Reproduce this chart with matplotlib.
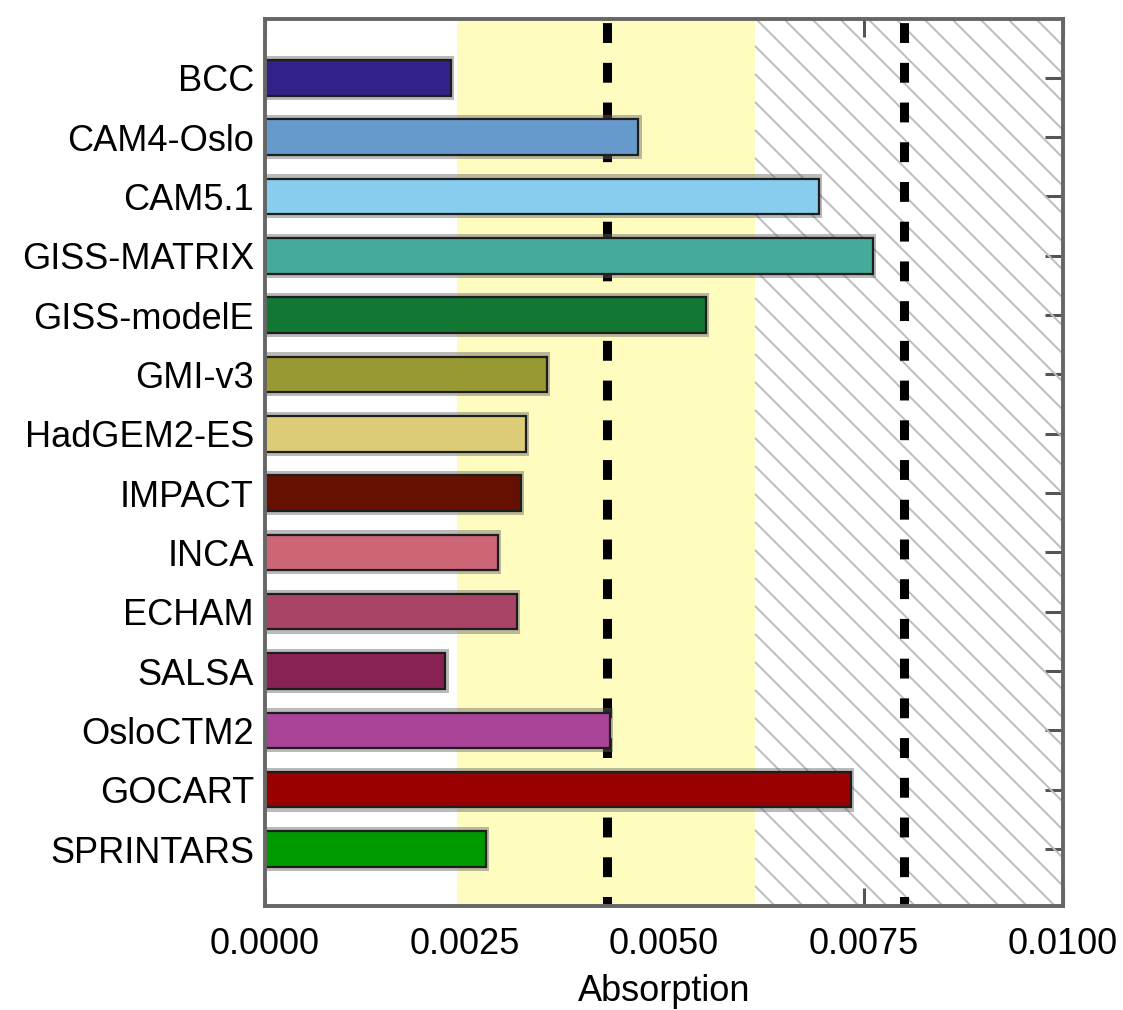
import matplotlib
matplotlib.use("Agg")
import matplotlib.pyplot as plt
from matplotlib import font_manager
from matplotlib.collections import LineCollection
import numpy as np

# model absorption values
models = ["BCC", "CAM4-Oslo", "CAM5.1", "GISS-MATRIX", "GISS-modelE", "GMI-v3",
          "HadGEM2-ES", "IMPACT", "INCA", "ECHAM", "SALSA", "OsloCTM2",
          "GOCART", "SPRINTARS"]
absorption = [0.00233, 0.00468, 0.00694, 0.00762, 0.00552, 0.00353, 0.00327,
              0.00321, 0.00292, 0.00316, 0.00226, 0.00432, 0.00734, 0.00277]
colors = ["#33218a", "#6699cc", "#88ccee", "#44aa99", "#117733", "#999933",
          "#ddcc77", "#661100", "#cc6677", "#aa4466", "#882255", "#aa4499",
          "#990000", "#009900"]

# observational range and estimates
obs_range = (0.00241, 0.00614)
obs_lines = [0.00429, 0.00801]
xticks = [0.0, 0.0025, 0.0050, 0.0075, 0.0100]

names = [f.name for f in font_manager.fontManager.ttflist]
if "Liberation Sans Narrow" in names:
    fam, fs = "Liberation Sans Narrow", 29
else:
    fam, fs = "Liberation Sans", 26
plt.rcParams['font.family'] = [fam, 'DejaVu Sans']

dpi = 100
pos = [0.236, 0.103, 0.7106, 0.8782]
fig = plt.figure(figsize=(11.23, 10.10), dpi=dpi)
ax = fig.add_axes(pos)
ax.set_axisbelow(True)

y = np.arange(len(models))
ax.set_xlim(0, 0.01)
ax.set_ylim(13.96, -0.99)

ax.axvspan(obs_range[0], obs_range[1], color="#fffcc0", lw=0, zorder=1)

# hatched region beyond the observed range: 45 degree lines every 28 px,
# clipped by hand to the box [xa, 1] x [0, 1] in axes pixels
W = 11.23 * dpi * pos[2]
H = 10.10 * dpi * pos[3]
xa = obs_range[1] / 0.01 * W
segs = []
for u in np.arange(6 - H, W, 28):
    # line goes from (u, H) down to (u + H, 0)
    x_start, y_start = u, H
    if x_start < xa:
        y_start = H - (xa - u)
        x_start = xa
    x_end, y_end = u + H, 0.0
    if x_end > W:
        y_end = x_end - W
        x_end = W
    if x_end <= x_start:
        continue
    segs.append([(x_start / W, y_start / H), (x_end / W, y_end / H)])
lc = LineCollection(segs, colors="#bdbdbd", linewidths=1.4,
                    transform=ax.transAxes, zorder=1.1)
ax.add_collection(lc)

for xv in obs_lines:
    ax.plot([xv, xv], [-0.99, 13.96], color="black", lw=6.5,
            linestyle=(4.0, (2.2, 2.2)), dash_capstyle="butt", zorder=1.5)

# shadow behind each bar, then the bar itself
ax.barh(y, np.array(absorption) + 0.00004, height=0.74, color="#666666",
        alpha=0.45, lw=0, zorder=1.8)
ax.barh(y, absorption, height=0.6, color=colors, edgecolor="#1e1e1e",
        linewidth=1.6, zorder=2)

ax.set_yticks(y)
ax.set_yticklabels(models, fontsize=fs)
ax.set_xticks(xticks)
ax.set_xticklabels(["%.4f" % v for v in xticks], fontsize=fs)
ax.set_xlabel("Absorption", fontsize=fs, labelpad=9)

ax.tick_params(axis="both", direction="in", length=13, width=2.2,
               color="#555555", top=True, right=True)
ax.tick_params(axis="y", pad=8)
ax.tick_params(axis="x", pad=15)

for s in ax.spines.values():
    s.set_color("#666666")
    s.set_linewidth(2.8)
    s.set_zorder(3)

fig.savefig("out.png", dpi=dpi)
